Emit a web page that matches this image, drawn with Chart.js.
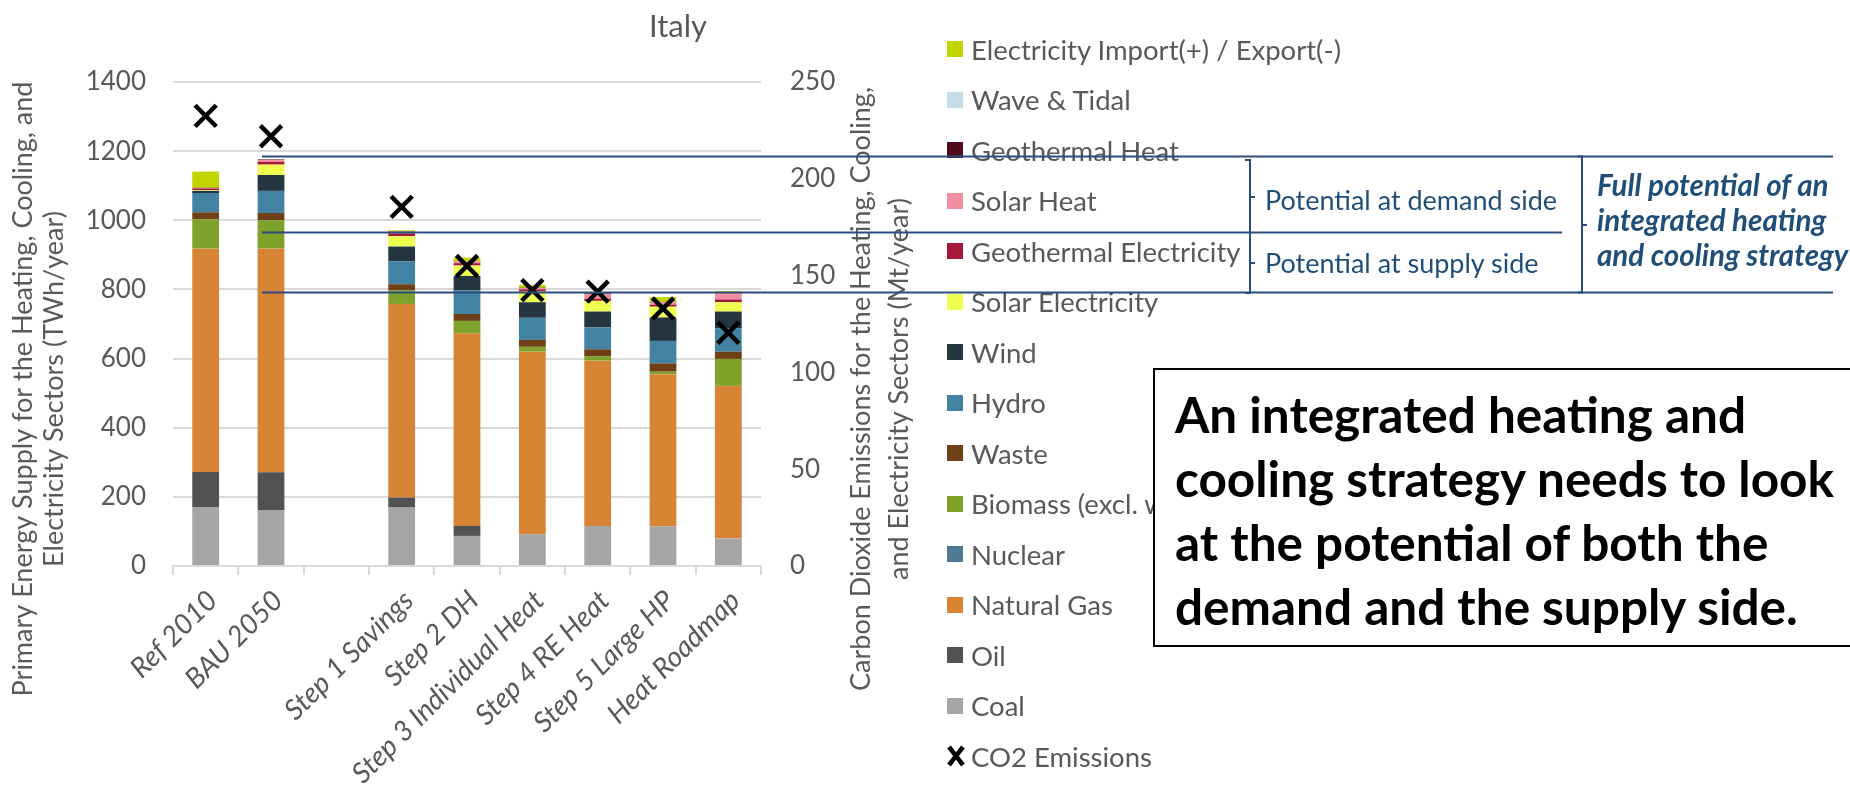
<!DOCTYPE html>
<html>
<head>
<meta charset="utf-8">
<script src="https://cdn.jsdelivr.net/npm/chart.js@4.4.0/dist/chart.umd.min.js"></script>
<style>
  body { margin: 0; background: #fff; width: 1850px; height: 789px; overflow: hidden; position: relative; font-family: Lato, "Open Sans", sans-serif; }
  #myChart { position: absolute; left: 0; top: 0; }
  #legend { position: absolute; left: 0; top: 0; }
  .item { position: absolute; left: 947px; height: 30px; display: flex; align-items: center; font-size: 27.5px; color: #595959; white-space: nowrap; }
  .item .sw { width: 16px; height: 16px; margin-right: 8px; }
  .item svg { margin-right: 6px; }
  #lines { position: absolute; left: 0; top: 0; }
  .note { position: absolute; color: #1F4E79; font-size: 27px; line-height: 30px; white-space: nowrap; }
  .full { position: absolute; left: 1597px; top: 167px; color: #1F4E79; font-size: 29.5px; line-height: 35px; font-weight: bold; font-style: italic; white-space: nowrap; }
  #box { position: absolute; left: 1153px; top: 368px; width: 720px; height: 263px; border: 2px solid #000; background: #fff;
         box-sizing: content-box; padding: 12px 0 0 20px; font-size: 49.5px; font-weight: bold; line-height: 64px; color: #000; white-space: nowrap; }
</style>
</head>
<body>
<canvas id="myChart" width="1850" height="789"></canvas>
<div id="legend"></div>
<svg id="lines" width="1850" height="789">
  <g stroke="#2B4C7E" stroke-width="2" fill="none">
    <line x1="262" y1="156.5" x2="1833" y2="156.5"/>
    <line x1="262" y1="232.5" x2="1562" y2="232.5"/>
    <line x1="262" y1="292.5" x2="1833" y2="292.5"/>
    <path d="M1245,160 H1250 V293 H1245"/>
    <path d="M1250,197 H1255 M1250,263 H1255"/>
    <path d="M1578,156.5 H1582 V292.5 H1578 M1582,225 H1587"/>
  </g>
</svg>
<div class="note" style="left:1265px; top:185px">Potential at demand side</div>
<div class="note" style="left:1265px; top:248px">Potential at supply side</div>
<div class="full">Full potential of an<br>integrated heating<br>and cooling strategy</div>
<div id="box">An integrated heating and<br>cooling strategy needs to look<br>at the potential of both the<br>demand and the supply side.</div>
<script>
// categories (the empty one is the gap after BAU 2050)
const categories = ['Ref 2010', 'BAU 2050', '', 'Step 1 Savings', 'Step 2 DH', 'Step 3 Individual Heat', 'Step 4 RE Heat', 'Step 5 Large HP', 'Heat Roadmap'];

// TWh/year
const coal       = [169, 162, null, 169, 87, 92, 116, 114, 80];
const oil        = [103, 109, null, 29, 29, 0, 0, 0, 0];
const naturalGas = [646, 647, null, 560, 557, 528, 478, 441, 441];
const nuclear    = [0, 0, null, 0, 0, 0, 0, 0, 0];
const biomass    = [85, 82, null, 39, 36, 14, 12, 7, 78];
const waste      = [20, 21, null, 18, 20, 20, 21, 24, 21];
const hydro      = [56, 64, null, 66, 68, 64, 63, 65, 68];
const wind       = [6, 46, null, 43, 42, 45, 46, 68, 48];
const solarElec  = [2, 30, null, 30, 30, 31, 31, 31, 27];
const geoElec    = [5, 8, null, 8, 7, 6, 6, 6, 8];
const solarHeat  = [1, 5, null, 5, 5, 4, 14, 7, 20];
const geoHeat    = [1, 2, null, 1, 1, 1, 2, 1, 1];
const waveTidal  = [0, 0, null, 0, 0, 0, 0, 0, 0];
const elecImport = [47, 0, null, 3, 10, 8, 4, 14, 3];

// Mt/year
const co2 = [232.5, 222, null, 185.5, 155, 142.5, 141.7, 133, 120.5];

const leftTicks = { min: 0, max: 1400, step: 200 };
const rightTicks = { min: 0, max: 250, step: 50 };

const chartTitle = 'Italy';
const leftTitle = ['Primary Energy Supply for the Heating, Cooling, and', 'Electricity Sectors (TWh/year)'];
const rightTitle = ['Carbon Dioxide Emissions for the Heating, Cooling,', 'and Electricity Sectors (Mt/year)'];

const series = [
  ['Coal', coal, '#A5A5A5'],
  ['Oil', oil, '#525252'],
  ['Natural Gas', naturalGas, '#D78535'],
  ['Nuclear', nuclear, '#4E7A93'],
  ['Biomass (excl. waste)', biomass, '#7FA22B'],
  ['Waste', waste, '#6F3F17'],
  ['Hydro', hydro, '#4282A3'],
  ['Wind', wind, '#263640'],
  ['Solar Electricity', solarElec, '#EFFF4F'],
  ['Geothermal Electricity', geoElec, '#A6173A'],
  ['Solar Heat', solarHeat, '#F08FA0'],
  ['Geothermal Heat', geoHeat, '#4E0D1B'],
  ['Wave & Tidal', waveTidal, '#C5DDE8'],
  ['Electricity Import(+) / Export(-)', elecImport, '#C2D500'],
];

const datasets = series.map(([label, values, color]) => ({
  type: 'bar',
  label: label,
  data: values,
  backgroundColor: color,
  borderWidth: 0,
  stack: 'energy',
  yAxisID: 'y',
  order: 2,
  categoryPercentage: 1,
  barPercentage: 0.41,
}));

datasets.push({
  type: 'line',
  label: 'CO2 Emissions',
  data: co2,
  yAxisID: 'y2',
  showLine: false,
  pointStyle: 'crossRot',
  pointRadius: 15,
  pointBorderWidth: 4.5,
  borderColor: '#000',
  backgroundColor: '#000',
  order: 1,
});

/**
 * chart title and both axis titles at fixed places
 */
const textPlugin = {
  id: 'texts',
  afterDraw(chart) {
    const ctx = chart.ctx;
    ctx.save();
    ctx.fillStyle = '#595959';
    ctx.textAlign = 'center';
    ctx.textBaseline = 'middle';
    ctx.font = '31px Lato';
    ctx.fillText(chartTitle, 678, 27);
    ctx.font = '27px Lato';
    const rot = (lines, xs, y) => {
      lines.forEach((t, i) => {
        ctx.save();
        ctx.translate(xs[i], y);
        ctx.rotate(-Math.PI / 2);
        ctx.fillText(t, 0, 0);
        ctx.restore();
      });
    };
    rot(leftTitle, [23, 54], 389);
    rot(rightTitle, [861, 899], 389);
    ctx.restore();
  },
};

const tickFont = { family: 'Lato', size: 26 };

const config = {
  type: 'bar',
  data: { labels: categories, datasets: datasets },
  options: {
    responsive: false,
    animation: false,
    devicePixelRatio: 1,
    layout: { padding: { left: 0, top: 82, right: 1850 - 761 - 100, bottom: 0 } },
    plugins: { legend: { display: false }, title: { display: false }, tooltip: { enabled: false } },
    scales: {
      x: {
        stacked: true,
        grid: { offset: true, drawOnChartArea: false, tickLength: 9, color: '#D9D9D9', lineWidth: 2 },
        border: { color: '#D9D9D9', width: 2 },
        ticks: { font: { family: 'Lato', size: 28, style: 'italic' }, color: '#595959', minRotation: 45, maxRotation: 45, autoSkip: false, padding: 9, labelOffset: 7 },
        afterFit: (s) => { s.height = 223; },
      },
      y: {
        stacked: true,
        min: leftTicks.min,
        max: leftTicks.max,
        ticks: { stepSize: leftTicks.step, font: tickFont, color: '#595959', padding: 27, callback: (v) => String(v) },
        grid: { color: '#D9D9D9', lineWidth: 2, drawTicks: false },
        border: { display: false },
        afterFit: (s) => { s.width = 173; },
      },
      y2: {
        position: 'right',
        min: rightTicks.min,
        max: rightTicks.max,
        ticks: { stepSize: rightTicks.step, font: tickFont, color: '#595959', padding: 29, callback: (v) => String(v) },
        grid: { display: false, drawTicks: false },
        border: { display: false },
        afterFit: (s) => { s.width = 100; },
      },
    },
  },
  plugins: [textPlugin],
};

const myChart = new Chart(document.getElementById('myChart'), config);

// legend, top to bottom = top of the stack first, then the CO2 marker
const legend = document.getElementById('legend');
const items = datasets.slice(0, series.length).reverse().concat(datasets.slice(series.length));
items.forEach((ds, i) => {
  const div = document.createElement('div');
  div.className = 'item';
  div.style.top = (49 + i * 50.5 - 15) + 'px';
  if (ds.type === 'line') {
    div.innerHTML = '<svg width="18" height="22"><path d="M2,2 L16,20 M16,2 L2,20" stroke="#000" stroke-width="4.5"/></svg>';
  } else {
    div.innerHTML = '<span class="sw" style="background:' + ds.backgroundColor + '"></span>';
  }
  div.appendChild(document.createTextNode(ds.label));
  legend.appendChild(div);
});
</script>
</body>
</html>
